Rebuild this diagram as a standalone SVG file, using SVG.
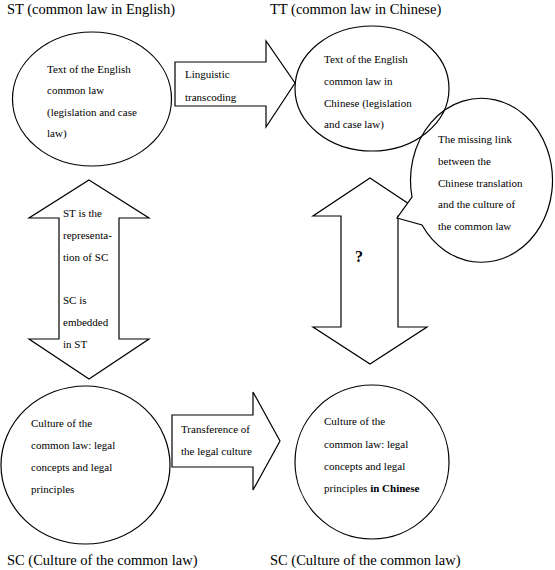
<svg xmlns="http://www.w3.org/2000/svg" width="555" height="570" viewBox="0 0 555 570">
<style>
  .shape { fill: #fff; stroke: #000; stroke-width: 1.2; }
  .t { font-family: "Liberation Serif", "Times New Roman", serif; font-size: 11px; fill: #000; }
  .title { font-family: "Liberation Serif", "Times New Roman", serif; font-size: 14.5px; fill: #000; }
  .b { font-weight: bold; }
  .q { font-size: 16px; }
</style>
<rect width="555" height="570" fill="#fff"/>
<g id="titles">
  <text class="title" x="7" y="14">ST (common law in English)</text>
  <text class="title" x="270" y="14">TT (common law in Chinese)</text>
  <text class="title" x="7" y="565">SC (Culture of the common law)</text>
  <text class="title" x="270" y="565">SC (Culture of the common law)</text>
</g>
<g id="connectors">
  <g id="linguistic-transcoding">
    <polygon class="shape" points="175,62 266,62 266,41 295,83 266,127 266,106 175,106"/>
    <text class="t" x="185" y="78">Linguistic</text>
    <text class="t" x="185" y="101">transcoding</text>
  </g>
  <g id="transference">
    <polygon class="shape" points="172,415 253,415 253,392 280,441 253,490 253,467 172,467"/>
    <text class="t" x="181" y="433">Transference of</text>
    <text class="t" x="181" y="455">the legal culture</text>
  </g>
  <g id="st-sc-arrow">
    <polygon class="shape" points="89,180 149,218 119,218 119,339 149,339 89,379 29,339 59,339 59,218 29,218"/>
    <text class="t" x="63" y="217">ST is the</text>
    <text class="t" x="63" y="239">representa-</text>
    <text class="t" x="63" y="261">tion of SC</text>
    <text class="t" x="63" y="304">SC is</text>
    <text class="t" x="63" y="326">embedded</text>
    <text class="t" x="63" y="348">in ST</text>
  </g>
  <g id="tt-sc-arrow">
    <polygon class="shape" points="370,178 427,216 398,216 398,327 427,327 370,364 313,327 341,327 341,216 313,216"/>
    <text class="t b q" x="355" y="262">?</text>
  </g>
</g>
<g id="missing-link">
  <path class="shape" d="M412,197 A71,82 0 1 1 422,225 L397,218 Z"/>
  <text class="t" x="438" y="143">The missing link</text>
  <text class="t" x="438" y="165">between the</text>
  <text class="t" x="438" y="187">Chinese translation</text>
  <text class="t" x="438" y="208">and the culture of</text>
  <text class="t" x="438" y="230">the common law</text>
</g>
<g id="st-node">
  <ellipse class="shape" cx="92" cy="99" rx="79.5" ry="67"/>
  <text class="t" x="47" y="73">Text of the English</text>
  <text class="t" x="47" y="94">common law</text>
  <text class="t" x="47" y="116">(legislation and case</text>
  <text class="t" x="47" y="137">law)</text>
</g>
<g id="tt-node">
  <ellipse cx="372" cy="88.5" rx="77" ry="62.5" fill="none" stroke="#000" stroke-width="1.2"/>
  <text class="t" x="324" y="63">Text of the English</text>
  <text class="t" x="324" y="85">common law in</text>
  <text class="t" x="324" y="107">Chinese (legislation</text>
  <text class="t" x="324" y="128">and case law)</text>
</g>
<g id="sc-node">
  <ellipse class="shape" cx="85.5" cy="465" rx="84.5" ry="79"/>
  <text class="t" x="31" y="427">Culture of the</text>
  <text class="t" x="31" y="449">common law: legal</text>
  <text class="t" x="31" y="471">concepts and legal</text>
  <text class="t" x="31" y="493">principles</text>
</g>
<g id="sc-chinese-node">
  <ellipse class="shape" cx="372" cy="462" rx="77" ry="77"/>
  <text class="t" x="324" y="425">Culture of the</text>
  <text class="t" x="324" y="448">common law: legal</text>
  <text class="t" x="324" y="470">concepts and legal</text>
  <text class="t" x="324" y="492">principles <tspan class="b">in Chinese</tspan></text>
</g>
</svg>
